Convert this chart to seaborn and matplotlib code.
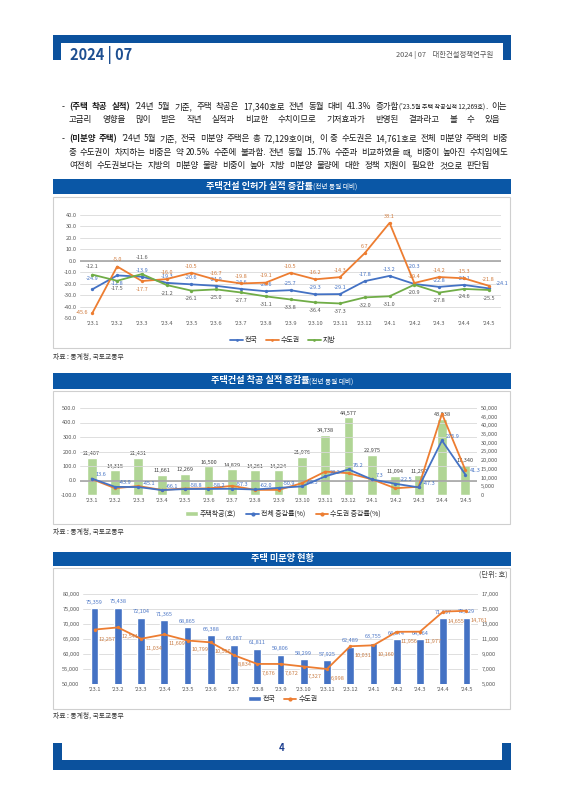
import numpy as np
import pandas as pd
import matplotlib
matplotlib.use("Agg")
import matplotlib.pyplot as plt
from matplotlib.patches import Rectangle, Patch
from matplotlib.lines import Line2D
from matplotlib.ticker import FuncFormatter
import seaborn as sns

# 월 라벨 ('23.1 ~ '24.5)
months = ["'23.1", "'23.2", "'23.3", "'23.4", "'23.5", "'23.6", "'23.7", "'23.8", "'23.9",
          "'23.10", "'23.11", "'23.12", "'24.1", "'24.2", "'24.3", "'24.4", "'24.5"]

# 주택건설 인허가 실적 증감률 (%)
permit_all = [-24.9, -12.8, -13.9, -19.3, -20.6, -21.9, -24.6, -26.6, -25.7,
              -29.3, -29.1, -17.8, -13.2, -20.3, -22.8, -21.1, -24.1]
permit_metro = [-45.6, -5.0, -17.7, -16.0, -10.5, -16.7, -19.8, -19.1, -10.5,
                -16.2, -14.3, 6.7, 33.1, -19.4, -14.2, -15.3, -21.8]
permit_local = [-12.1, -17.5, -11.6, -21.2, -26.1, -25.0, -27.7, -31.1, -33.8,
                -36.4, -37.3, -32.0, -31.0, -20.9, -27.8, -24.6, -25.5]

# 주택건설 착공 실적
start_units = [21407, 14315, 21431, 11661, 12269, 16500, 14829, 14261, 14224,
               21976, 34738, 44577, 22975, 11094, 11290, 43938, 17340]
start_all = [13.6, -43.9, -45.1, -66.1, -58.8, -58.2, -57.3, -62.0, -50.9,
             -40.5, 28.2, 76.2, 7.3, -22.5, -47.3, 275.9, 41.3]
start_metro = [10.2, -53.1, -38.5, -64.8, -55.2, -54.6, -36.9, -64.5, -64.9,
               -18.7, 61.3, 50.4, 8.2, -53.5, -43.0, 460.1, 72.9]

# 주택 미분양 현황 (호)
unsold_all = [75359, 75438, 72104, 71365, 68865, 66388, 63087, 61811, 59806,
              58299, 57925, 62489, 63755, 64874, 64964, 71997, 72129]
unsold_metro = [12257, 12541, 11034, 11609, 10799, 10550, 8834, 7676, 7672,
                7327, 6998, 10031, 10160, 11956, 11977, 14655, 14761]

BLUE = "#4472c4"
ORANGE = "#ed7d31"
GREEN = "#70ad47"
NAVY = "#0b519d"
TXT = "#1a1a1a"

sns.set_theme(style="white")
plt.rcParams["font.family"] = ["Noto Sans CJK KR", "DejaVu Sans"]
plt.rcParams["axes.unicode_minus"] = False

W, H = 565, 800
fig = plt.figure(figsize=(W / 100, H / 100), dpi=100)
fig.patch.set_facecolor("white")
renderer = fig.canvas.get_renderer()


def fx(x):
    return x / W


def fy(y):
    return 1 - y / H


def rect(x0, y0, x1, y1, **kw):
    fig.add_artist(Rectangle((fx(x0), fy(y1)), fx(x1) - fx(x0), fy(y0) - fy(y1),
                             transform=fig.transFigure, **kw))


def text_w(s, **kw):
    t = fig.text(0, 0, s, **kw)
    w = t.get_window_extent(renderer).width
    t.remove()
    return w


def write_line(y, words, x0, x1):
    # 양쪽 정렬: 단어 사이 간격을 균등하게 벌림
    widths = [sum(text_w(s, fontsize=fs, fontweight=fw) for s, fs, fw in wd) for wd in words]
    gap = (x1 - x0 - sum(widths)) / (len(words) - 1)
    x = x0
    for wd, w in zip(words, widths):
        for s, fs, fw in wd:
            fig.text(fx(x), fy(y), s, fontsize=fs, fontweight=fw, color=TXT,
                     ha="left", va="baseline")
            x += text_w(s, fontsize=fs, fontweight=fw)
        x += gap


BODY = 6.1


def words(s, fs=BODY, fw="normal"):
    return [[(w, fs, fw)] for w in s.split()]


# ---- 머리말 ----
rect(53, 35, 511, 43, facecolor=NAVY, edgecolor="none")
rect(53, 35, 61, 60, facecolor=NAVY, edgecolor="none")
rect(503, 35, 511, 60, facecolor=NAVY, edgecolor="none")
fig.text(fx(70), fy(55), "2024 | 07", fontsize=10.5, fontweight="bold", color="#1d4f91",
         ha="left", va="center")
fig.text(fx(493), fy(55), "2024 | 07    대한건설정책연구원", fontsize=5.3, color="#555555",
         ha="right", va="center")

# ---- 본문 ----
fig.text(fx(62), fy(109), "-", fontsize=BODY, color=TXT, ha="left", va="baseline")
line1 = (words("(주택 착공 실적)", fw="bold")
         + words("’24년 5월 기준, 주택 착공은 17,340호로 전년 동월 대비 41.3%")
         + [[("증가함", BODY, "normal"), ("(’23.5월 주택 착공실적 12,269호)", 4.4, "normal"),
             (".", BODY, "normal")]]
         + words("이는"))
write_line(109, line1, 69, 507)
write_line(122, words("고금리 영향을 많이 받은 작년 실적과 비교한 수치이므로 기저효과가 반영된 결과라고 볼 수 있음"),
           69, 500)
fig.text(fx(62), fy(141), "-", fontsize=BODY, color=TXT, ha="left", va="baseline")
write_line(141, words("(미분양 주택)", fw="bold")
           + words("’24년 5월 기준, 전국 미분양 주택은 총 72,129호이며, 이 중 수도권은 14,761호로 전체 미분양 주택의 비중"),
           69, 508)
write_line(155, words("중 수도권이 차지하는 비중은 약 20.5% 수준에 불과함. 전년 동월 15.7% 수준과 비교하였을 때, 비중이 높아진 수치임에도"),
           69, 508)
write_line(168, words("여전히 수도권보다는 지방의 미분양 물량 비중이 높아 지방 미분양 물량에 대한 정책 지원이 필요한 것으로 판단됨"),
           69, 490)


def title_bar(y0, y1, main, sub=None):
    rect(53, y0, 511, y1, facecolor="#0a57a6", edgecolor="none")
    wm = text_w(main, fontsize=6.6, fontweight="bold")
    ws = text_w(sub, fontsize=4.8) if sub else 0
    x = 282 - (wm + ws) / 2
    yc = (y0 + y1) / 2 + 2.5
    fig.text(fx(x), fy(yc), main, fontsize=6.6, fontweight="bold", color="white",
             ha="left", va="baseline")
    if sub:
        fig.text(fx(x + wm), fy(yc), sub, fontsize=4.8, color="white", ha="left", va="baseline")


def source(y):
    fig.text(fx(53), fy(y), "자료 : 통계청, 국토교통부", fontsize=4.9, color="#333333",
             ha="left", va="center")


def put_label(ax, x, y, s, dx, dy, color):
    ha = "center" if dx == 0 else ("left" if dx > 0 else "right")
    va = "center" if dy == 0 else ("bottom" if dy > 0 else "top")
    ax.annotate(s, (x, y), xytext=(dx, dy), textcoords="offset points",
                ha=ha, va=va, fontsize=4, color=color)


idx = np.arange(len(months))


def style_axis(ax, lo, hi, step, fmt, grid=True):
    ax.set_ylim(lo, hi)
    ax.set_yticks(np.arange(lo, hi + step / 2, step))
    ax.yaxis.set_major_formatter(FuncFormatter(fmt))
    ax.tick_params(length=0, labelsize=4.1, labelcolor="#595959", pad=2.5)
    for s in ax.spines.values():
        s.set_visible(False)
    ax.grid(False)
    if grid:
        ax.grid(axis="y", color="#d9d9d9", lw=0.6)
    ax.set_xlabel("")
    ax.set_ylabel("")


def style_x(ax):
    ax.set_xlim(-0.5, len(months) - 0.5)
    ax.set_xticks(idx)
    ax.set_xticklabels(months)


# ---- 차트 1: 인허가 ----
title_bar(179, 194, "주택건설 인허가 실적 증감률", "(전년 동월 대비)")
rect(53, 197, 510, 348, facecolor="none", edgecolor="#cfcfcf", lw=0.8)
ax1 = fig.add_axes([fx(80), fy(318), fx(501) - fx(80), fy(215) - fy(318)])
ax1.set_facecolor("none")
df1 = pd.DataFrame({"월": idx, "전국": permit_all, "수도권": permit_metro, "지방": permit_local})
ax1.axhline(0, color="#a6a6a6", lw=1.2, zorder=1)
# 라벨 위치 예외 (시리즈, 인덱스) -> 오프셋(pt)
special = {("전국", 0): (0, 6), ("전국", 1): (0, -4), ("전국", 13): (0, 11),
           ("전국", 16): (5, 2), ("수도권", 0): (-3, 0), ("수도권", 2): (0, -4),
           ("지방", 0): (0, 4), ("지방", 2): (0, 10)}
for name, col, lc, dy in [("전국", BLUE, BLUE, 3), ("수도권", ORANGE, "#d07a3c", 3),
                          ("지방", GREEN, "#555555", -4)]:
    sns.lineplot(data=df1, x="월", y=name, ax=ax1, color=col, lw=1.3, marker="o",
                 markersize=2.4, markeredgewidth=0, label=name, zorder=3)
    for i, v in enumerate(df1[name]):
        ddx, ddy = special.get((name, i), (0, dy))
        put_label(ax1, i, v, f"{v:.1f}", ddx, ddy, lc)
style_axis(ax1, -50, 40, 10, lambda v, p: f"{v:.1f}")
style_x(ax1)
ax1.legend(loc="center", bbox_to_anchor=((283 - 80) / 421, (318 - 340) / 103), ncol=3,
           frameon=False, fontsize=5, handlelength=1.8, columnspacing=1.2, handletextpad=0.3,
           markerscale=0.8)
source(357)

# ---- 차트 2: 착공 ----
title_bar(373, 389, "주택건설 착공 실적 증감률", "(전년 동월 대비)")
rect(53, 391, 510, 524, facecolor="none", edgecolor="#cfcfcf", lw=0.8)
ax2 = fig.add_axes([fx(80), fy(495), fx(477) - fx(80), fy(408) - fy(495)])
ax2r = ax2.twinx()
df2 = pd.DataFrame({"월": idx, "주택착공(호)": start_units, "전체 증감률(%)": start_all,
                    "수도권 증감률(%)": start_metro})
sns.barplot(data=df2, x="월", y="주택착공(호)", ax=ax2r, color="#b0d595", width=0.42,
            saturation=1)
for i, v in enumerate(start_units):
    ax2r.text(i, v + 900, f"{v:,}", ha="center", va="bottom", fontsize=4, color="#404040")
style_axis(ax2r, 0, 50000, 5000, lambda v, p: f"{v:,.0f}", grid=False)
ax2.set_zorder(ax2r.get_zorder() + 1)
ax2.patch.set_visible(False)
ax2.axhline(0, color="#a6a6a6", lw=1.2, zorder=1)
sns.lineplot(data=df2, x="월", y="수도권 증감률(%)", ax=ax2, color=ORANGE, lw=1.3,
             marker="o", markersize=2.4, markeredgewidth=0, zorder=3)
sns.lineplot(data=df2, x="월", y="전체 증감률(%)", ax=ax2, color=BLUE, lw=1.3,
             marker="o", markersize=2.4, markeredgewidth=0, zorder=4)
for i, v in enumerate(start_all):
    put_label(ax2, i, v, f"{v:.1f}", 3, 1, BLUE)
style_axis(ax2, -100, 500, 100, lambda v, p: f"{v:.1f}")
style_x(ax2)
h2 = [Patch(facecolor="#b0d595"), Line2D([], [], color=BLUE, lw=1.3, marker="o", markersize=2),
      Line2D([], [], color=ORANGE, lw=1.3, marker="o", markersize=2)]
ax2.legend(h2, ["주택착공(호)", "전체 증감률(%)", "수도권 증감률(%)"], loc="center",
           bbox_to_anchor=((283 - 80) / 397, (495 - 514) / 87), ncol=3, frameon=False,
           fontsize=5, handlelength=1.8, columnspacing=1.5, handletextpad=0.3)
source(532)

# ---- 차트 3: 미분양 ----
title_bar(552, 566, "주택 미분양 현황")
rect(53, 568, 510, 709, facecolor="none", edgecolor="#cfcfcf", lw=0.8)
fig.text(fx(508), fy(575), "(단위: 호)", fontsize=5.3, color="#404040", ha="right", va="center")
ax3 = fig.add_axes([fx(83), fy(684), fx(478) - fx(83), fy(594) - fy(684)])
df3 = pd.DataFrame({"월": idx, "전국": unsold_all, "수도권": unsold_metro})
sns.barplot(data=df3, x="월", y="전국", ax=ax3, color=BLUE, width=0.33, saturation=1, zorder=2)
for i, v in enumerate(unsold_all):
    ax3.text(i, v + 1100, f"{v:,}", ha="center", va="bottom", fontsize=4, color="#4f79c7")
style_axis(ax3, 50000, 80000, 5000, lambda v, p: f"{v:,.0f}")
ax3.set_axisbelow(True)
ax3r = ax3.twinx()
sns.lineplot(data=df3, x="월", y="수도권", ax=ax3r, color=ORANGE, lw=1.3, marker="o",
             markersize=2.4, markeredgewidth=0, zorder=3)
for i, v in enumerate(unsold_metro):
    put_label(ax3r, i, v, f"{v:,}", 3, -5, "#c97d45")
style_axis(ax3r, 5000, 17000, 2000, lambda v, p: f"{v:,.0f}", grid=False)
style_x(ax3)
h3 = [Patch(facecolor=BLUE), Line2D([], [], color=ORANGE, lw=1.3, marker="o", markersize=2)]
ax3.legend(h3, ["전국", "수도권"], loc="center",
           bbox_to_anchor=((283 - 83) / 395, (684 - 699) / 90), ncol=2, frameon=False,
           fontsize=5, handlelength=1.8, columnspacing=1.2, handletextpad=0.3)
source(716)

# ---- 꼬리말 ----
rect(53, 760, 511, 770, facecolor=NAVY, edgecolor="none")
rect(53, 743, 62, 770, facecolor=NAVY, edgecolor="none")
rect(502, 743, 511, 770, facecolor=NAVY, edgecolor="none")
fig.text(fx(282), fy(748), "4", fontsize=7, fontweight="bold", color="#1d3f8f",
         ha="center", va="center")

fig.savefig("out.png", dpi=100, facecolor="white")
